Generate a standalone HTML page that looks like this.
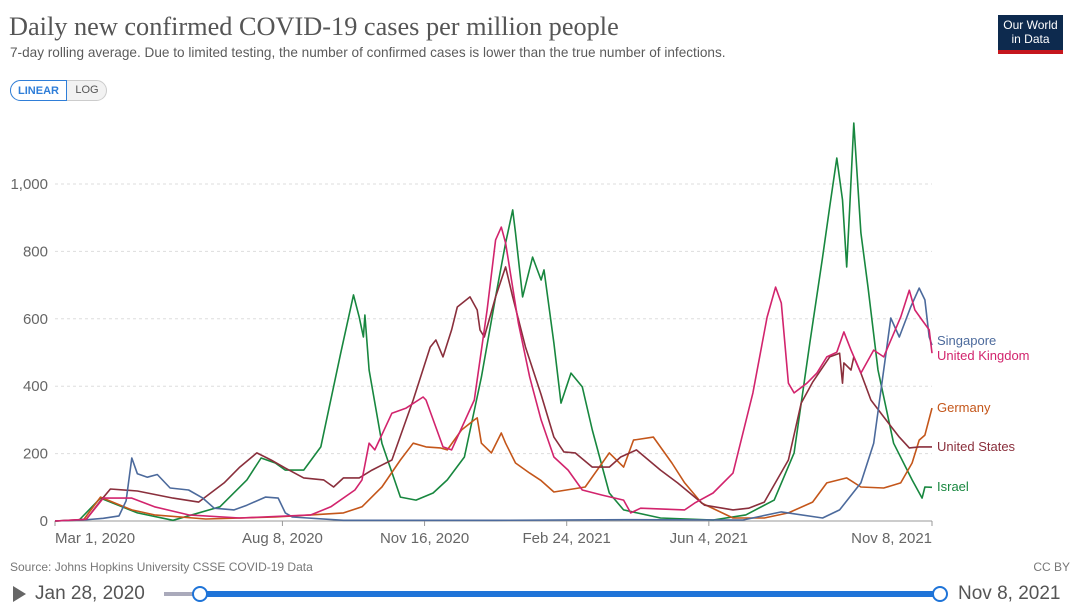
<!DOCTYPE html>
<html><head><meta charset="utf-8"><style>
body{margin:0;background:#fff;font-family:"Liberation Sans",sans-serif;}
#wrap{position:relative;width:1080px;height:610px;overflow:hidden;}
.t{position:absolute;white-space:nowrap;}
</style></head><body>
<div id="wrap">
<div class="t" style="left:9px;top:12px;font-family:'Liberation Serif',serif;font-size:26.3px;color:#555;">Daily new confirmed COVID-19 cases per million people</div>
<div class="t" style="left:10px;top:45px;font-size:13.6px;color:#5b5b5b;">7-day rolling average. Due to limited testing, the number of confirmed cases is lower than the true number of infections.</div>
<div style="position:absolute;left:998px;top:15px;width:65px;height:39px;background:#0d2a4e;color:#fff;font-size:12px;line-height:14px;text-align:center;box-sizing:border-box;padding-top:3px;border-bottom:4px solid #c5161d;">Our World<br>in Data</div>
<div style="position:absolute;left:10px;top:80px;width:97px;height:21px;border:1px solid #ccc;border-radius:11px;background:#f2f2f2;box-sizing:border-box;font-size:11px;">
<div style="position:absolute;left:-1px;top:-1px;width:57px;height:21px;border:1px solid #2f7ed8;border-radius:11px 0 0 11px;background:#fff;color:#2f7ed8;font-weight:bold;text-align:center;line-height:21px;box-sizing:border-box;">LINEAR</div>
<div style="position:absolute;left:58px;top:0;width:36px;line-height:19px;text-align:center;color:#555;">LOG</div>
</div>
<svg id="chart" width="1080" height="610" style="position:absolute;left:0;top:0"></svg>
<div class="t" style="left:10px;top:560px;font-size:12px;color:#777;">Source: Johns Hopkins University CSSE COVID-19 Data</div>
<div class="t" style="right:10px;top:560px;font-size:12px;color:#777;">CC BY</div>
<div style="position:absolute;left:13px;top:586px;width:0;height:0;border-left:13px solid #666;border-top:8px solid transparent;border-bottom:8px solid transparent;"></div>
<div class="t" style="left:35px;top:583px;font-size:19px;color:#555;">Jan 28, 2020</div>
<div style="position:absolute;left:164px;top:592px;width:36px;height:4px;background:#aab;"></div>
<div style="position:absolute;left:200px;top:591px;width:740px;height:6px;background:#1f74d8;"></div>
<div style="position:absolute;left:192px;top:586px;width:12px;height:12px;border:2px solid #1f74d8;border-radius:50%;background:#fff;"></div>
<div style="position:absolute;left:932px;top:586px;width:12px;height:12px;border:2px solid #1f74d8;border-radius:50%;background:#fff;"></div>
<div class="t" style="left:958px;top:583px;font-size:19px;color:#555;">Nov 8, 2021</div>
</div>
<script>
// days since Mar 1, 2020
const yTicks=[0,200,400,600,800,1000];
const yTickLabels=["0","200","400","600","800","1,000"];
const xTickDays=[0,160,260,360,460,617];
const xTickLabels=["Mar 1, 2020","Aug 8, 2020","Nov 16, 2020","Feb 24, 2021","Jun 4, 2021","Nov 8, 2021"];
const seriesNames=["Singapore","United Kingdom","Germany","United States","Israel"];
const sgDays=[0,20,34,45,50,54,58,65,72,81,94,104,112,126,135,148,157,162,167,203,310,402,484,511,540,552,567,576,588,594,602,608,612,615,617];
const sgVals=[0,3,8,15,60,187,140,130,138,98,92,68,38,33,47,71,68,24,12,2,2,4,3,27,9,33,113,231,602,546,635,691,656,546,522];
const ukDays=[0,22,34,54,70,94,130,180,194,211,216,221,225,237,247,259,261,273,279,295,300,304,310,314,317,326,334,342,351,361,371,385,400,405,412,443,450,463,477,491,501,507,511,516,520,529,536,543,550,555,560,567,576,583,595,601,605,610,615,617];
const ukVals=[0,5,68,68,42,18,9,18,42,92,122,231,211,320,335,368,359,220,211,359,507,626,834,872,825,587,427,300,190,151,92,77,62,24,38,33,53,83,142,380,605,694,647,409,380,409,439,487,501,561,507,439,507,487,605,685,626,596,567,498];
const deDays=[0,20,32,54,70,106,155,180,203,216,230,243,252,261,271,276,286,295,297,300,307,314,317,324,334,342,351,373,390,400,407,421,434,443,455,477,499,516,533,543,557,567,583,595,603,608,612,617];
const deVals=[0,3,71,33,18,6,12,18,24,42,101,181,231,220,217,211,270,300,306,231,202,261,231,172,142,120,86,101,202,160,240,249,172,113,53,9,9,24,56,113,128,101,98,113,172,240,255,335];
const usDays=[0,22,32,39,58,83,101,119,130,142,152,162,175,189,196,203,214,223,237,252,264,268,273,279,283,292,297,299,302,310,317,322,331,342,351,358,366,378,390,398,409,426,438,457,477,488,499,516,525,533,545,552,554,555,560,562,567,574,583,594,601,608,617];
const usVals=[0,5,60,95,89,68,56,113,160,202,181,157,128,122,101,128,128,151,181,359,516,537,487,567,635,665,626,567,546,665,754,665,516,375,249,205,202,160,160,190,211,151,113,47,33,38,56,181,350,412,487,498,409,469,448,487,439,359,309,249,217,220,220];
const ilDays=[0,17,32,58,83,116,135,145,155,162,175,187,201,210,214,217,218,221,230,243,254,266,276,288,300,310,317,322,324,329,336,342,344,351,356,363,371,378,390,400,426,463,486,506,520,531,540,545,550,554,557,559,562,567,572,579,590,603,610,612,617];
const ilVals=[0,3,68,24,2,42,122,187,172,151,151,220,498,671,605,546,611,448,231,71,62,83,122,190,427,665,825,923,855,665,783,715,745,528,350,439,398,270,83,33,9,3,18,62,202,528,783,932,1077,953,754,923,1181,855,694,448,231,122,68,101,100];

const X0=55,X1=932,DMAX=617,Y0=521,Y1000=184;
const xs=d=>X0+(X1-X0)*d/DMAX;
const ys=v=>Y0-(Y0-Y1000)*v/1000;
const svg=document.getElementById('chart');
const NS='http://www.w3.org/2000/svg';
function mk(tag,attrs){const e=document.createElementNS(NS,tag);for(const k in attrs)e.setAttribute(k,attrs[k]);svg.appendChild(e);return e;}
yTicks.forEach((t,i)=>{
  if(t>0){const g=mk('line',{x1:X0,x2:X1,y1:ys(t),y2:ys(t),stroke:'#ddd','stroke-dasharray':'3,3'});
  
  }
  const l=mk('text',{x:48,y:ys(t)+5,'text-anchor':'end','font-size':15,fill:'#666','font-family':'Liberation Sans, sans-serif'});
  l.textContent=yTickLabels[i];
  
  
});
const ax=mk('line',{x1:X0,x2:X1,y1:Y0,y2:Y0,stroke:'#999'});


xTickDays.forEach((d,i)=>{
  const tk=mk('line',{x1:xs(d),x2:xs(d),y1:Y0,y2:Y0+5,stroke:'#999'});
  
  
  const anchor=i==0?'start':(i==xTickDays.length-1?'end':'middle');
  const l=mk('text',{x:xs(d),y:543,'text-anchor':anchor,'font-size':15,fill:'#666','font-family':'Liberation Sans, sans-serif'});
  l.textContent=xTickLabels[i];
  
  
});
const series=[[ilDays,ilVals,'#18873f'],[deDays,deVals,'#c4561a'],[usDays,usVals,'#8a2f3c'],[sgDays,sgVals,'#4c6a9c'],[ukDays,ukVals,'#d2246d']];
const slugs=['israel','germany','united-states','singapore','united-kingdom'];
series.forEach((s,k)=>{
  const pts=s[0].map((d,i)=>xs(d).toFixed(1)+','+ys(s[1][i]).toFixed(1)).join(' ');
  const p=mk('polyline',{points:pts,fill:'none',stroke:s[2],'stroke-width':1.6,'stroke-linejoin':'round'});
  
  
});
const legendY=[341,356,408,447,487];
const legendColors=['#4c6a9c','#d2246d','#c4561a','#8a2f3c','#18873f'];
seriesNames.forEach((n,i)=>{
  const t=mk('text',{x:937,y:legendY[i]+4,'font-size':13,fill:legendColors[i],'font-family':'Liberation Sans, sans-serif'});
  t.textContent=n;
  
  
});
</script>
</body></html>
